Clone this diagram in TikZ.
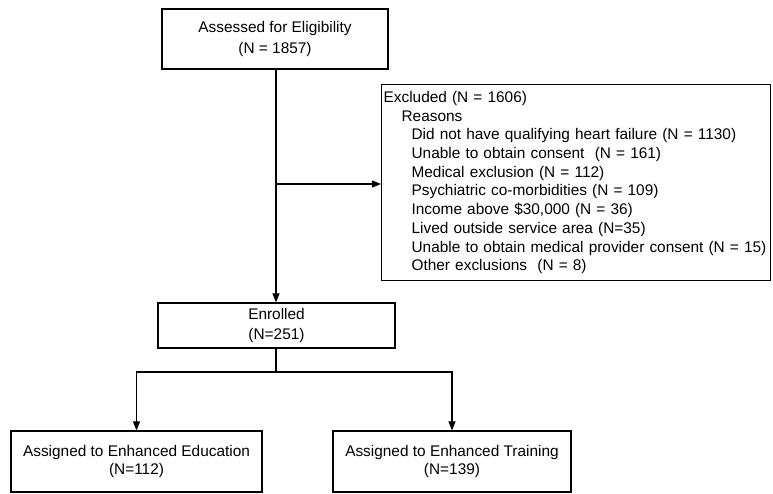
\documentclass[tikz,border=0pt]{standalone}
\usepackage{fontspec}
\setmainfont{Liberation Sans}
\usetikzlibrary{arrows.meta}
\begin{document}
\begin{tikzpicture}[x=1pt,y=-1pt,
  box/.style={draw, line width=1.2pt, align=center, inner sep=2pt, font=\fontsize{15.4}{18}\selectfont},
  wide/.style={font=\fontsize{15.4}{20.5}\selectfont},
  conn/.style={line width=1.1pt},
  arr/.style={conn, -{Triangle[length=9pt,width=7pt]}}]
\useasboundingbox (0,0) rectangle (773,493);
\node[box, wide, minimum width=226pt, minimum height=60pt] (top) at (275,39) {Assessed for Eligibility\\(N = 1857)};
\node[box, anchor=north west, minimum width=389pt, minimum height=196pt, text width=385pt, align=left, inner sep=1pt,
  font=\fontsize{15.4}{18.7}\selectfont] (excl) at (381,84)
  {Excluded (N = 1606)\\
   \hspace*{18pt}Reasons\\
   \hspace*{28pt}Did not have qualifying heart failure (N = 1130)\\
   \hspace*{28pt}Unable to obtain consent\ \ (N = 161)\\
   \hspace*{28pt}Medical exclusion (N = 112)\\
   \hspace*{28pt}Psychiatric co-morbidities (N = 109)\\
   \hspace*{28pt}Income above \$30,000 (N = 36)\\
   \hspace*{28pt}Lived outside service area (N=35)\\
   \hspace*{28pt}Unable to obtain medical provider consent (N = 15)\\
   \hspace*{28pt}Other exclusions\ \ (N = 8)};
\node[box, wide, minimum width=237pt, minimum height=45pt] (enr) at (276.5,325.5) {Enrolled\\(N=251)};
\node[box, minimum width=251pt, minimum height=61pt] (edu) at (136.5,461.5) {Assigned to Enhanced Education\\(N=112)};
\node[box, minimum width=238pt, minimum height=61pt] (trn) at (452,461.5) {Assigned to Enhanced Training\\(N=139)};
\coordinate (j) at (276,184);
\coordinate (b) at (276,372);
\draw[arr] (top.south -| j) -- (enr.north -| j);
\draw[arr] (j) -- (j -| excl.west);
\draw[conn] (enr.south -| b) -- (b);
\draw[arr] (b) -| (edu.north);
\draw[arr] (b) -| (trn.north);
\end{tikzpicture}
\end{document}
